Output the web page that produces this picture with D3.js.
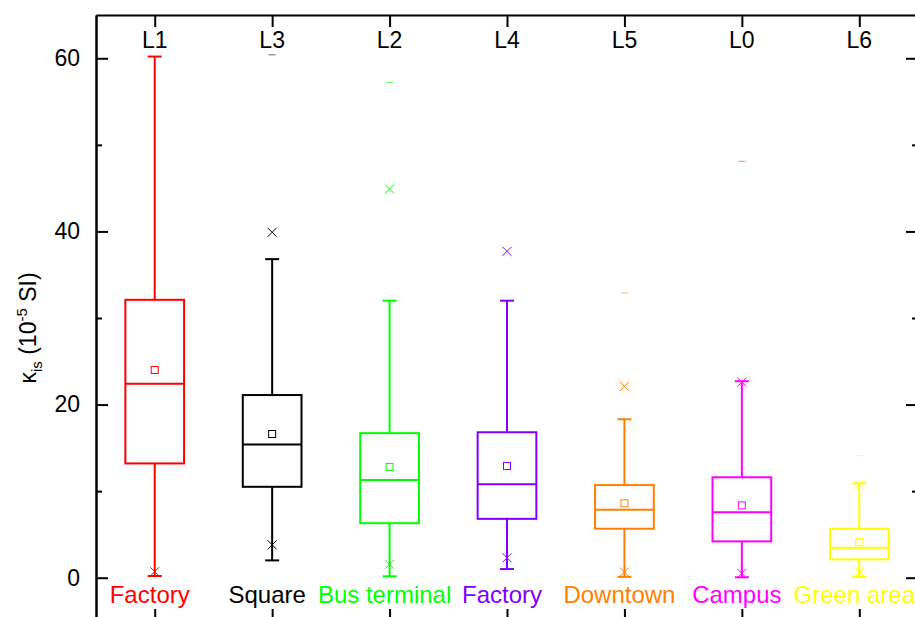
<!doctype html>
<html lang="en">
<head>
<meta charset="utf-8">
<title>Box chart</title>
<script src="https://cdn.jsdelivr.net/npm/d3@7"></script>
<style>
  body { margin: 0; background: #fff; }
  svg { display: block; font-family: "Liberation Sans", Arial, sans-serif; }
</style>
</head>
<body>
<script>
// values (10^-5 SI)
var sites = ["L1", "L3", "L2", "L4", "L5", "L0", "L6"];
var places = ["Factory", "Square", "Bus terminal", "Factory", "Downtown", "Campus", "Green area"];
var colors = ["#ff0000", "#000000", "#00ff00", "#8000ff", "#ff8000", "#ff00ff", "#ffff00"];
var q1 = [13.2, 10.5, 6.3, 6.8, 5.66, 4.2, 2.12];
var median = [22.4, 15.4, 11.3, 10.8, 7.85, 7.55, 3.46];
var q3 = [32.1, 21.1, 16.7, 16.8, 10.7, 11.6, 5.66];
var mean = [24.0, 16.6, 12.8, 12.9, 8.6, 8.36, 4.1];
var whiskerLow = [0.2, 2.0, 0.16, 1.0, 0.1, 0.05, 0.1];
var whiskerHigh = [60.2, 36.8, 32.0, 32.0, 18.3, 22.7, 10.9];
var p1 = [0.7, 3.8, 1.55, 2.3, 0.65, 0.5, 0.7];
var p99 = [null, 39.9, 44.9, 37.7, 22.1, 22.6, 10.8];
var maxVal = [null, 60.4, 57.2, null, 32.9, 48.1, 14.1];
var yTicks = [0, 20, 40, 60];
var yMinor = [10, 30, 50];

var width = 915, height = 617;
var plotL = 96, plotR = 918, plotT = 15, plotB = 621;

var svg = d3.select("body").append("svg")
    .attr("width", width).attr("height", height);

var x = d3.scalePoint().domain(sites).range([plotL, plotR]).padding(0.5);
var y = d3.scaleLinear().domain([-5, 65]).range([plotB, plotT]);
var boxW = x.step() * 0.5;
var capW = 14;

// axes
svg.append("g").attr("transform", "translate(" + plotL + ",0)")
    .call(d3.axisLeft(y).tickValues(yTicks).tickSize(-12).tickSizeOuter(0).tickPadding(16))
    .call(function(g){
        g.selectAll("text").attr("font-size", 23).attr("fill", "#000").style("font-family", "Liberation Sans, Arial");
    });
svg.append("g").attr("transform", "translate(" + plotL + ",0)")
    .call(d3.axisLeft(y).tickValues(yMinor).tickSize(-6).tickSizeOuter(0).tickFormat(""));
svg.append("g").attr("transform", "translate(" + plotR + ",0)")
    .call(d3.axisRight(y).tickValues(yTicks).tickSize(-12).tickSizeOuter(0).tickFormat(""));
svg.append("g").attr("transform", "translate(" + plotR + ",0)")
    .call(d3.axisRight(y).tickValues(yMinor).tickSize(-6).tickSizeOuter(0).tickFormat(""));
svg.append("g").attr("transform", "translate(0," + plotT + ")")
    .call(d3.axisTop(x).tickSize(-12).tickSizeOuter(0).tickFormat(""));
svg.append("g").attr("transform", "translate(0," + plotB + ")")
    .call(d3.axisBottom(x).tickSize(-12).tickSizeOuter(0).tickFormat(""));
svg.selectAll(".domain").attr("stroke-width", 2).attr("stroke", "#000");
svg.selectAll(".tick line").attr("stroke-width", 2).attr("stroke", "#000");

// site labels along the top
svg.append("g").selectAll("text").data(sites).enter().append("text")
    .attr("x", function(d){ return x(d); })
    .attr("y", 48)
    .attr("text-anchor", "middle")
    .attr("font-size", 23)
    .text(function(d){ return d; });

// place labels along the bottom
svg.append("g").selectAll("text").data(places).enter().append("text")
    .attr("x", function(d, i){ return x(sites[i]) - 5; })
    .attr("y", 603)
    .attr("text-anchor", "middle")
    .attr("font-size", 24)
    .attr("fill", function(d, i){ return colors[i]; })
    .text(function(d){ return d; });

// y title
var title = svg.append("text")
    .attr("transform", "translate(36,328) rotate(-90)")
    .attr("text-anchor", "middle")
    .attr("font-size", 23);
title.append("tspan").text("\u03BA");
title.append("tspan").attr("font-size", 15).attr("dy", 6).text("is");
title.append("tspan").attr("dy", -6).text(" (10");
title.append("tspan").attr("font-size", 15).attr("dy", -9).text("-5");
title.append("tspan").attr("dy", 9).text(" SI)");

// boxes
var groups = svg.append("g").selectAll("g").data(sites).enter().append("g")
    .attr("stroke", function(d, i){ return colors[i]; })
    .attr("fill", "none");

groups.each(function(d, i){
    var g = d3.select(this);
    var cx = x(d);
    // whiskers
    g.append("line").attr("x1", cx).attr("x2", cx)
        .attr("y1", y(q3[i])).attr("y2", y(whiskerHigh[i])).attr("stroke-width", 2);
    g.append("line").attr("x1", cx).attr("x2", cx)
        .attr("y1", y(q1[i])).attr("y2", y(whiskerLow[i])).attr("stroke-width", 2);
    [whiskerHigh[i], whiskerLow[i]].forEach(function(v){
        g.append("line").attr("x1", cx - capW / 2).attr("x2", cx + capW / 2)
            .attr("y1", y(v)).attr("y2", y(v)).attr("stroke-width", 2);
    });
    // box
    g.append("rect").attr("x", cx - boxW / 2).attr("width", boxW)
        .attr("y", y(q3[i])).attr("height", y(q1[i]) - y(q3[i]))
        .attr("stroke-width", 2);
    g.append("line").attr("x1", cx - boxW / 2).attr("x2", cx + boxW / 2)
        .attr("y1", y(median[i])).attr("y2", y(median[i])).attr("stroke-width", 2);
    // mean
    g.append("rect").attr("x", cx - 3.5).attr("y", y(mean[i]) - 3.5)
        .attr("width", 7).attr("height", 7).attr("stroke-width", 1);
    // 1% / 99% crosses
    [p1[i], p99[i]].forEach(function(v){
        if (v === null) return;
        var py = y(v);
        g.append("path")
            .attr("d", "M" + (cx - 4.5) + "," + (py - 4.5) + "L" + (cx + 4.5) + "," + (py + 4.5) +
                       "M" + (cx - 4.5) + "," + (py + 4.5) + "L" + (cx + 4.5) + "," + (py - 4.5))
            .attr("stroke-width", 1);
    });
    // max dash
    if (maxVal[i] !== null) {
        g.append("line").attr("x1", cx - 3.5).attr("x2", cx + 3.5)
            .attr("y1", y(maxVal[i])).attr("y2", y(maxVal[i]))
            .attr("stroke-width", 1).attr("stroke-opacity", 0.6);
    }
});
</script>
</body>
</html>
